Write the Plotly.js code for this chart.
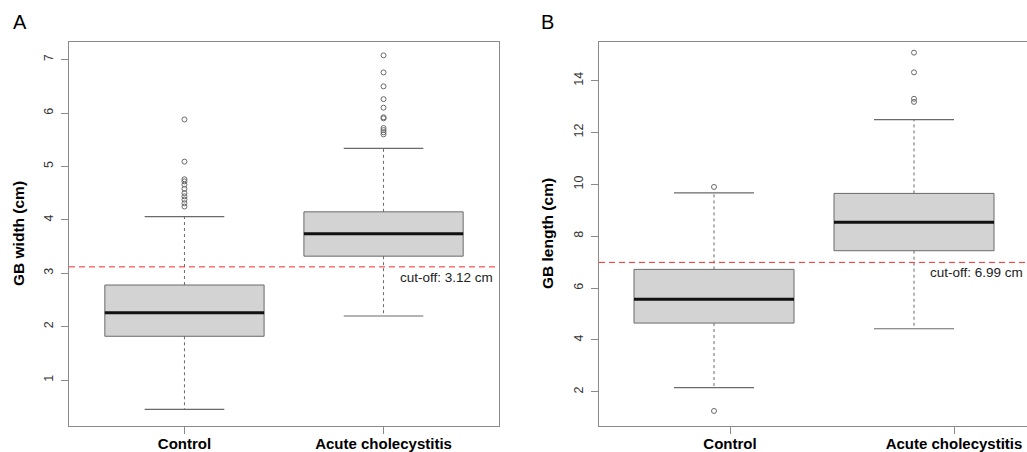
<!DOCTYPE html>
<html>
<head>
<meta charset="utf-8">
<script src="https://cdn.plot.ly/plotly-3.0.1.min.js"></script>
<style>html,body{margin:0;padding:0;background:#fff;}#chart{width:1027px;height:452px;}</style>
</head>
<body>
<div id="chart"></div>
<script>
// ---- data ----
const categories = ["Control", "Acute cholecystitis"];

// Panel A: GB width (cm)
const widthLower  = [0.45, 2.20];
const widthQ1     = [1.82, 3.32];
const widthMedian = [2.26, 3.74];
const widthQ3     = [2.78, 4.15];
const widthUpper  = [4.06, 5.34];
const widthOutliersControl = [5.88, 5.09, 4.76, 4.72, 4.66, 4.58, 4.50, 4.44, 4.38, 4.31, 4.25];
const widthOutliersAcute   = [7.08, 6.76, 6.50, 6.26, 6.10, 5.92, 5.90, 5.72, 5.68, 5.64, 5.60];
const widthCutoff = 3.12;

// Panel B: GB length (cm)
const lengthLower  = [2.16, 4.43];
const lengthQ1     = [4.65, 7.44];
const lengthMedian = [5.57, 8.54];
const lengthQ3     = [6.72, 9.65];
const lengthUpper  = [9.67, 12.50];
const lengthOutliersControl = [9.90, 1.26];
const lengthOutliersAcute   = [15.08, 14.32, 13.30, 13.18];
const lengthCutoff = 6.99;

const yTicksA = [1, 2, 3, 4, 5, 6, 7];
const yTicksB = [2, 4, 6, 8, 10, 12, 14];

// ---- styling ----
const FONT = "Liberation Sans, Arial, sans-serif";
const BOXW = 0.8, CAPW = 0.4;
const GREY = "#6a6a6a";
const positions = [1, 2];

function panelTraces(xa, ya, lower, q1, med, q3, upper, outs) {
  const tr = [];
  tr.push({
    type: "box", xaxis: xa, yaxis: ya, x: positions,
    q1: q1, median: med, q3: q3, lowerfence: q1, upperfence: q3,
    width: BOXW, whiskerwidth: 0, boxpoints: false,
    fillcolor: "#d3d3d3", line: {color: GREY, width: 1},
    hoverinfo: "skip", showlegend: false
  });
  // whiskers (dashed)
  let wx = [], wy = [];
  positions.forEach((p, i) => {
    wx.push(p, p, null, p, p, null);
    wy.push(q3[i], upper[i], null, q1[i], lower[i], null);
  });
  tr.push({type: "scatter", mode: "lines", xaxis: xa, yaxis: ya, x: wx, y: wy,
    line: {color: GREY, width: 1, dash: "3px,3px"}, hoverinfo: "skip", showlegend: false});
  // caps
  let cx = [], cy = [];
  positions.forEach((p, i) => {
    cx.push(p - CAPW / 2, p + CAPW / 2, null, p - CAPW / 2, p + CAPW / 2, null);
    cy.push(upper[i], upper[i], null, lower[i], lower[i], null);
  });
  tr.push({type: "scatter", mode: "lines", xaxis: xa, yaxis: ya, x: cx, y: cy,
    line: {color: GREY, width: 1.2}, hoverinfo: "skip", showlegend: false});
  // medians
  let mx = [], my = [];
  positions.forEach((p, i) => {
    mx.push(p - BOXW / 2, p + BOXW / 2, null);
    my.push(med[i], med[i], null);
  });
  tr.push({type: "scatter", mode: "lines", xaxis: xa, yaxis: ya, x: mx, y: my,
    line: {color: "#111", width: 3}, hoverinfo: "skip", showlegend: false});
  // outliers
  let ox = [], oy = [];
  positions.forEach((p, i) => { outs[i].forEach(v => { ox.push(p); oy.push(v); }); });
  tr.push({type: "scatter", mode: "markers", xaxis: xa, yaxis: ya, x: ox, y: oy,
    marker: {symbol: "circle-open", size: 5, color: GREY, line: {width: 1, color: GREY}},
    hoverinfo: "skip", showlegend: false});
  return tr;
}

const data = [].concat(
  panelTraces("x", "y", widthLower, widthQ1, widthMedian, widthQ3, widthUpper,
              [widthOutliersControl, widthOutliersAcute]),
  panelTraces("x2", "y2", lengthLower, lengthQ1, lengthMedian, lengthQ3, lengthUpper,
              [lengthOutliersControl, lengthOutliersAcute])
);

const W = 1027, H = 452;
const yDom = [(H - 426) / H, (H - 42) / H];
const axisLine = "#8a8a8a";
const tickFont = {family: FONT, size: 12.5, color: "#333"};
const catFont = {family: FONT, size: 15, color: "#000"};
const boldText = s => "<b>" + s + "</b>";

const layout = {
  width: W, height: H,
  margin: {l: 0, r: 0, t: 0, b: 0},
  paper_bgcolor: "#fff", plot_bgcolor: "#fff",
  font: {family: FONT},
  showlegend: false,
  xaxis: {
    domain: [69 / W, 499 / W], range: [0.42, 2.58],
    tickmode: "array", tickvals: positions, ticktext: categories.map(boldText),
    ticks: "outside", ticklen: 7, tickcolor: axisLine, tickfont: catFont,
    ticklabelstandoff: -3, ticklabeloverflow: "allow",
    showline: true, mirror: true, linecolor: axisLine, linewidth: 1,
    showgrid: false, zeroline: false, fixedrange: true
  },
  yaxis: {
    domain: yDom, range: [0.14, 7.33], anchor: "x",
    tickmode: "array", tickvals: yTicksA, ticktext: yTicksA.map(String),
    tickangle: -90, ticks: "outside", ticklen: 7, tickcolor: axisLine, tickfont: tickFont,
    ticklabelstandoff: 3,
    showline: true, mirror: true, linecolor: axisLine, linewidth: 1,
    showgrid: false, zeroline: false, fixedrange: true
  },
  xaxis2: {
    domain: [599 / W, 1], range: [0.425, 0.425 + (1027 - 599) / 200], anchor: "y2",
    tickmode: "array", tickvals: [1.08, 2.2], ticktext: categories.map(boldText),
    ticks: "outside", ticklen: 7, tickcolor: axisLine, tickfont: catFont,
    ticklabelstandoff: -3, ticklabeloverflow: "allow",
    showline: true, mirror: true, linecolor: axisLine, linewidth: 1,
    showgrid: false, zeroline: false, fixedrange: true
  },
  yaxis2: {
    domain: yDom, range: [0.68, 15.49], anchor: "x2",
    tickmode: "array", tickvals: yTicksB, ticktext: yTicksB.map(String),
    tickangle: -90, ticks: "outside", ticklen: 7, tickcolor: axisLine, tickfont: tickFont,
    ticklabelstandoff: 3,
    showline: true, mirror: false, linecolor: axisLine, linewidth: 1,
    showgrid: false, zeroline: false, fixedrange: true
  },
  shapes: [
    {type: "line", xref: "x domain", yref: "y", x0: 0, x1: 1, y0: widthCutoff, y1: widthCutoff,
     line: {color: "#ff2a2a", width: 1, dash: "6px,4px"}},
    {type: "line", xref: "x2 domain", yref: "y2", x0: 0, x1: 1, y0: lengthCutoff, y1: lengthCutoff,
     line: {color: "#ff2a2a", width: 1, dash: "6px,4px"}}
  ],
  annotations: [
    {text: "A", xref: "paper", yref: "paper", x: 20 / W, y: (H - 22) / H, showarrow: false,
     font: {family: FONT, size: 20, color: "#000"}, xanchor: "center", yanchor: "middle"},
    {text: "B", xref: "paper", yref: "paper", x: 547 / W, y: (H - 22) / H, showarrow: false,
     font: {family: FONT, size: 20, color: "#000"}, xanchor: "center", yanchor: "middle"},
    {text: "<b>GB width (cm)</b>", xref: "paper", yref: "paper", x: 18 / W, y: (H - 234) / H,
     textangle: -90, showarrow: false, font: {family: FONT, size: 15.5, color: "#000"},
     xanchor: "center", yanchor: "middle"},
    {text: "<b>GB length (cm)</b>", xref: "paper", yref: "paper", x: 547 / W, y: (H - 234) / H,
     textangle: -90, showarrow: false, font: {family: FONT, size: 15.5, color: "#000"},
     xanchor: "center", yanchor: "middle"},
    {text: "cut-off: " + widthCutoff.toFixed(2) + " cm", xref: "x domain", yref: "y", x: 1, y: widthCutoff,
     xanchor: "right", yanchor: "top", xshift: -4, yshift: -1, showarrow: false,
     font: {family: FONT, size: 13.5, color: "#222"}},
    {text: "cut-off: " + lengthCutoff.toFixed(2) + " cm", xref: "x2 domain", yref: "y2", x: 1, y: lengthCutoff,
     xanchor: "right", yanchor: "top", xshift: -2, yshift: -1, showarrow: false,
     font: {family: FONT, size: 13.5, color: "#222"}}
  ]
};

Plotly.newPlot("chart", data, layout, {displayModeBar: false, staticPlot: true});
</script>
</body>
</html>
